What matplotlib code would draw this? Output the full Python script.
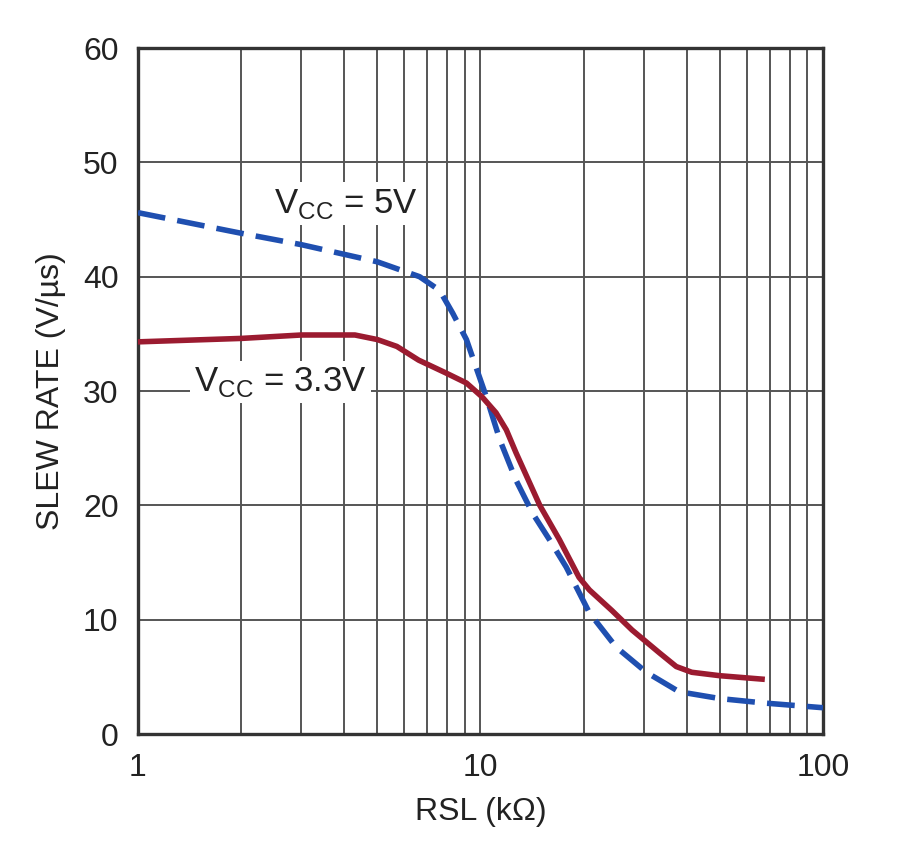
import matplotlib.pyplot as plt
import matplotlib.ticker as mticker
from matplotlib import font_manager

# valori
rsl_5v = [1, 2, 3, 5, 6.64, 7.6, 8.3, 9.1, 9.7, 10.4, 11.4, 12.7, 14.2, 15.9, 17.8,
          20.8, 24.9, 30.5, 38, 50, 68, 100]
sr_5v = [45.6, 43.8, 42.8, 41.3, 40.0, 38.8, 36.8, 34.5, 32.1, 29.5, 25.7, 22.2, 19.3, 17.0, 14.6,
         10.6, 7.6, 5.4, 3.7, 3.1, 2.7, 2.3]

rsl_33v = [1, 2, 3, 4.3, 5, 5.7, 6.6, 7.9, 9.1, 10.1, 11.1, 11.9, 12.7, 14.9, 17, 19.4,
           20.8, 24.2, 27.7, 33.3, 37.3, 41.4, 50, 66.4]
sr_33v = [34.3, 34.6, 34.9, 34.9, 34.5, 33.9, 32.7, 31.6, 30.7, 29.5, 28.1, 26.6, 24.6, 20.0, 17.0, 13.7,
          12.6, 10.8, 9.1, 7.1, 5.9, 5.4, 5.1, 4.8]

x_ticks = [1, 10, 100]
y_ticks = [0, 10, 20, 30, 40, 50, 60]

names = {f.name for f in font_manager.fontManager.ttflist}
family = 'Liberation Sans Narrow' if 'Liberation Sans Narrow' in names else 'Liberation Sans'
plt.rcParams['font.family'] = [family, 'DejaVu Sans']
plt.rcParams['mathtext.fontset'] = 'custom'
plt.rcParams['mathtext.rm'] = family

fig = plt.figure(figsize=(9, 8.59), dpi=100)
ax = fig.add_axes([0.1533, 0.1455, 0.7611, 0.7986])

ax.plot(rsl_5v, sr_5v, color='#1f4fb0', lw=4, dashes=(5, 2.2), zorder=3)
ax.plot(rsl_33v, sr_33v, color='#9b1b30', lw=4, zorder=3, solid_joinstyle='round')

ax.set_xscale('log')
ax.set_xlim(1, 100)
ax.set_ylim(0, 60)
ax.set_xticks(x_ticks)
ax.xaxis.set_major_formatter(mticker.FuncFormatter(lambda v, p: f'{v:g}'))
ax.xaxis.set_minor_locator(mticker.LogLocator(base=10, subs=range(2, 10)))
ax.xaxis.set_minor_formatter(mticker.NullFormatter())
ax.set_yticks(y_ticks)

ax.grid(True, which='both', color='#555555', lw=1.4)
ax.tick_params(which='both', length=0, labelsize=23, colors='#222222', pad=14)
for s in ax.spines.values():
    s.set_color('#333333')
    s.set_linewidth(2.4)

ax.set_xlabel('RSL (kΩ)', fontsize=23, color='#222222', labelpad=10)
ax.set_ylabel('SLEW RATE (V/µs)', fontsize=23, color='#222222', labelpad=12)

box = dict(facecolor='white', edgecolor='none', pad=3)
ax.text(4.05, 46.4, r'V$_{\mathrm{CC}}$ = 5V', fontsize=25, color='#222222',
        ha='center', va='center', bbox=box, zorder=4)
ax.text(2.6, 30.8, r'V$_{\mathrm{CC}}$ = 3.3V', fontsize=25, color='#222222',
        ha='center', va='center', bbox=box, zorder=4)

plt.savefig('out.png')
